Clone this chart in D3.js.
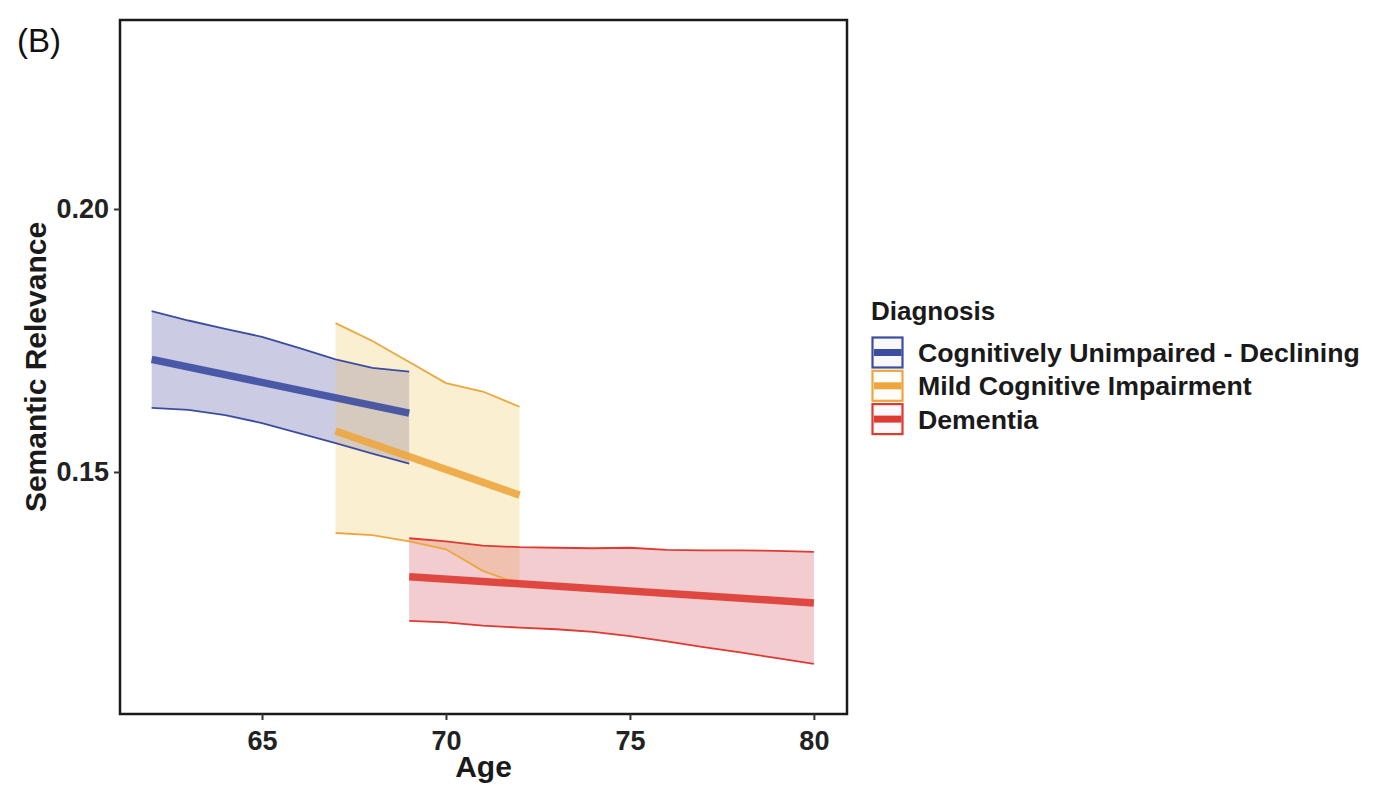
<!DOCTYPE html>
<html>
<head>
<meta charset="utf-8">
<script src="https://cdn.jsdelivr.net/npm/d3@7"></script>
<style>
  html, body { margin: 0; padding: 0; background: #fff; }
  svg { display: block; font-family: "Liberation Sans", Arial, Helvetica, sans-serif; }
</style>
</head>
<body>
<svg id="chart" width="1380" height="804"></svg>
<script>
// ---------- data ----------
const groups = ["Cognitively Unimpaired - Declining", "Mild Cognitive Impairment", "Dementia"];
const groupColors = ["#3C4DA0", "#EDA63E", "#DD3A32"];
const ribbonColors = ["#5252A5", "#F2CA66", "#D4555C"];

// ribbon (confidence band) ages and bounds
const cuAges  = [62, 63, 64, 65, 66, 67, 68, 69];
const cuUpper = [0.1806, 0.1788, 0.1772, 0.1757, 0.1736, 0.1714, 0.1698, 0.1691];
const cuLower = [0.1622, 0.1618, 0.1608, 0.1593, 0.1574, 0.1555, 0.1535, 0.1516];

const mciAges  = [67, 68, 69, 70, 71, 72];
const mciUpper = [0.1783, 0.1749, 0.1709, 0.1669, 0.1653, 0.1624];
const mciLower = [0.1384, 0.1380, 0.1368, 0.1353, 0.1312, 0.1287];

const demAges  = [69, 70, 71, 72, 73, 74, 75, 76, 77, 78, 79, 80];
const demUpper = [0.1374, 0.1368, 0.1360, 0.1357, 0.1356, 0.1355, 0.1356, 0.1352, 0.1351, 0.1351, 0.1350, 0.1348];
const demLower = [0.1217, 0.1214, 0.1208, 0.1204, 0.1201, 0.1196, 0.1188, 0.1178, 0.1167, 0.1157, 0.1146, 0.1135];

// fitted (mean) lines: start / end
const cuFitAges  = [62, 69];
const cuFit      = [0.1714, 0.1612];
const mciFitAges = [67, 72];
const mciFit     = [0.1578, 0.1456];
const demFitAges = [69, 80];
const demFit     = [0.1301, 0.1251];

const xTicks = [65, 70, 75, 80];
const yTicks = [0.15, 0.20];

// ---------- layout ----------
const svg = d3.select("#chart");
const L = 120, R = 847, T = 20, B = 714;

const x = d3.scaleLinear().domain([61.14, 80.9]).range([L, R]);
const y = d3.scaleLinear().domain([0.10399, 0.23593]).range([B, T]);

const series = [
  { ages: cuAges,  up: cuUpper,  lo: cuLower,  fa: cuFitAges,  fv: cuFit },
  { ages: mciAges, up: mciUpper, lo: mciLower, fa: mciFitAges, fv: mciFit },
  { ages: demAges, up: demUpper, lo: demLower, fa: demFitAges, fv: demFit }
];

const area = d3.area().x(d => x(d.a)).y0(d => y(d.lo)).y1(d => y(d.up));
const line = d3.line().x(d => x(d.a)).y(d => y(d.v));

const plot = svg.append("g");
// ribbons
series.forEach((s, i) => {
  const pts = s.ages.map((a, k) => ({ a, up: s.up[k], lo: s.lo[k] }));
  plot.append("path").attr("d", area(pts))
    .attr("fill", ribbonColors[i]).attr("fill-opacity", 0.3).attr("stroke", "none");
});
// ribbon edges
series.forEach((s, i) => {
  const col = groupColors[i];
  plot.append("path").attr("d", line(s.ages.map((a, k) => ({ a, v: s.up[k] }))))
    .attr("fill", "none").attr("stroke", col).attr("stroke-width", 1.8);
  plot.append("path").attr("d", line(s.ages.map((a, k) => ({ a, v: s.lo[k] }))))
    .attr("fill", "none").attr("stroke", col).attr("stroke-width", 1.8);
});
// fitted lines
series.forEach((s, i) => {
  const col = groupColors[i];
  plot.append("path").attr("d", line(s.fa.map((a, k) => ({ a, v: s.fv[k] }))))
    .attr("fill", "none").attr("stroke", col).attr("stroke-width", 7.5)
    .attr("stroke-opacity", 0.9);
});

// panel border
svg.append("rect").attr("x", L).attr("y", T).attr("width", R - L).attr("height", B - T)
  .attr("fill", "none").attr("stroke", "#1a1a1a").attr("stroke-width", 2.5);

// axes
const xAxis = svg.append("g").attr("transform", `translate(0,${B})`)
  .call(d3.axisBottom(x).tickValues(xTicks).tickSize(6).tickPadding(6).tickFormat(d3.format("d")));
const yAxis = svg.append("g").attr("transform", `translate(${L},0)`)
  .call(d3.axisLeft(y).tickValues(yTicks).tickSize(6).tickPadding(5).tickFormat(d3.format(".2f")));
[xAxis, yAxis].forEach(g => {
  g.select(".domain").remove();
  g.selectAll(".tick line").attr("stroke", "#333").attr("stroke-width", 2);
  g.selectAll(".tick text").attr("fill", "#222").attr("font-size", 27).attr("font-weight", "bold")
    .attr("font-family", "Liberation Sans, Arial, sans-serif");
});
xAxis.selectAll(".tick text").attr("dy", "0.88em");

// axis titles
svg.append("text").attr("x", (L + R) / 2).attr("y", 777).attr("text-anchor", "middle")
  .attr("font-size", 30).attr("font-weight", "bold").attr("fill", "#1a1a1a").text("Age");
svg.append("text").attr("transform", `translate(46,${(T + B) / 2}) rotate(-90)`)
  .attr("text-anchor", "middle").attr("font-size", 30).attr("font-weight", "bold")
  .attr("fill", "#1a1a1a").text("Semantic Relevance");

// panel tag
svg.append("text").attr("x", 17).attr("y", 52).attr("font-size", 33).attr("fill", "#111").text("(B)");

// legend
const lg = svg.append("g");
lg.append("text").attr("x", 871).attr("y", 320).attr("font-size", 26).attr("font-weight", "bold")
  .attr("fill", "#1a1a1a").text("Diagnosis");
groups.forEach((g, i) => {
  const cy = 352.5 + i * 33.3;
  const col = groupColors[i];
  lg.append("rect").attr("x", 872.5).attr("y", cy - 15).attr("width", 30).attr("height", 30)
    .attr("fill", ribbonColors[i]).attr("fill-opacity", 0.04).attr("stroke", col).attr("stroke-width", 2.2);
  lg.append("line").attr("x1", 874).attr("x2", 901.5).attr("y1", cy).attr("y2", cy)
    .attr("stroke", col).attr("stroke-width", 7);
  lg.append("text").attr("x", 918).attr("y", cy + 9.5).attr("font-size", 26.7).attr("font-weight", "bold")
    .attr("fill", "#1a1a1a").text(g);
});
</script>
</body>
</html>
